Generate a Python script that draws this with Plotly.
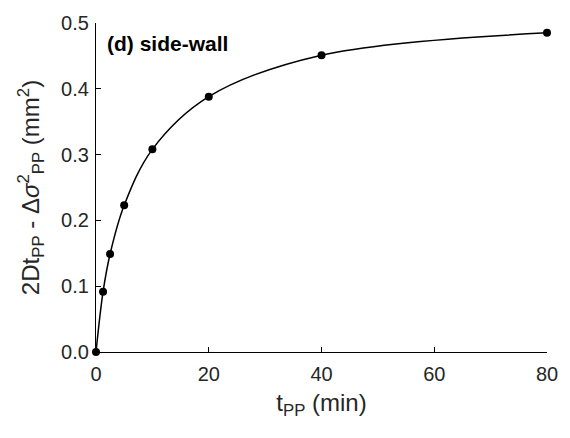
import plotly.graph_objects as go

t_pp = [0, 1.25, 2.5, 5, 10, 20, 40, 80]
y_vals = [0.0, 0.0915, 0.149, 0.223, 0.308, 0.388, 0.451, 0.485]
x_ticks = [0, 20, 40, 60, 80]
y_ticks = [0.0, 0.1, 0.2, 0.3, 0.4, 0.5]

FONT = "Arial, Liberation Sans, sans-serif"
TXT = "#262626"

fig = go.Figure()
fig.add_trace(go.Scatter(
    x=t_pp, y=y_vals, mode="lines",
    line=dict(color="black", width=1.5, shape="spline", smoothing=1.0),
    hoverinfo="skip", showlegend=False, cliponaxis=False,
))
fig.add_trace(go.Scatter(
    x=t_pp, y=y_vals, mode="markers",
    marker=dict(color="black", size=8),
    showlegend=False, cliponaxis=False,
))

fig.update_layout(
    width=570, height=438,
    margin=dict(l=96, r=20, t=19, b=86),
    paper_bgcolor="white", plot_bgcolor="white",
    font=dict(family=FONT, color=TXT, size=20),
    xaxis=dict(
        range=[0, 80], tickvals=x_ticks, ticks="inside", ticklen=5,
        tickcolor="black", showline=True, linecolor="black", linewidth=1.2,
        showgrid=False, zeroline=False, tickfont=dict(size=20, color=TXT),
        ticklabelstandoff=4,
        title=dict(text="t<sub>PP</sub> (min)", font=dict(size=24, color=TXT), standoff=10),
    ),
    yaxis=dict(
        range=[0, 0.5], tickvals=y_ticks, tickformat=".1f", ticks="inside", ticklen=5,
        tickcolor="black", showline=True, linecolor="black", linewidth=1.2,
        showgrid=False, zeroline=False, tickfont=dict(size=20, color=TXT),
        ticklabelstandoff=2,
        title=dict(text="2Dt<sub>PP</sub> - Δ<i>σ</i><sup>2</sup><sub>PP</sub> (mm<sup>2</sup>)",
                   font=dict(size=24, color=TXT), standoff=14),
    ),
    annotations=[dict(
        text="<b>(d) side-wall</b>", x=0.02, y=0.937, xref="paper", yref="paper",
        xanchor="left", yanchor="middle", showarrow=False,
        font=dict(size=21, color="black", family=FONT),
    )],
)

fig.write_html("out.html")
